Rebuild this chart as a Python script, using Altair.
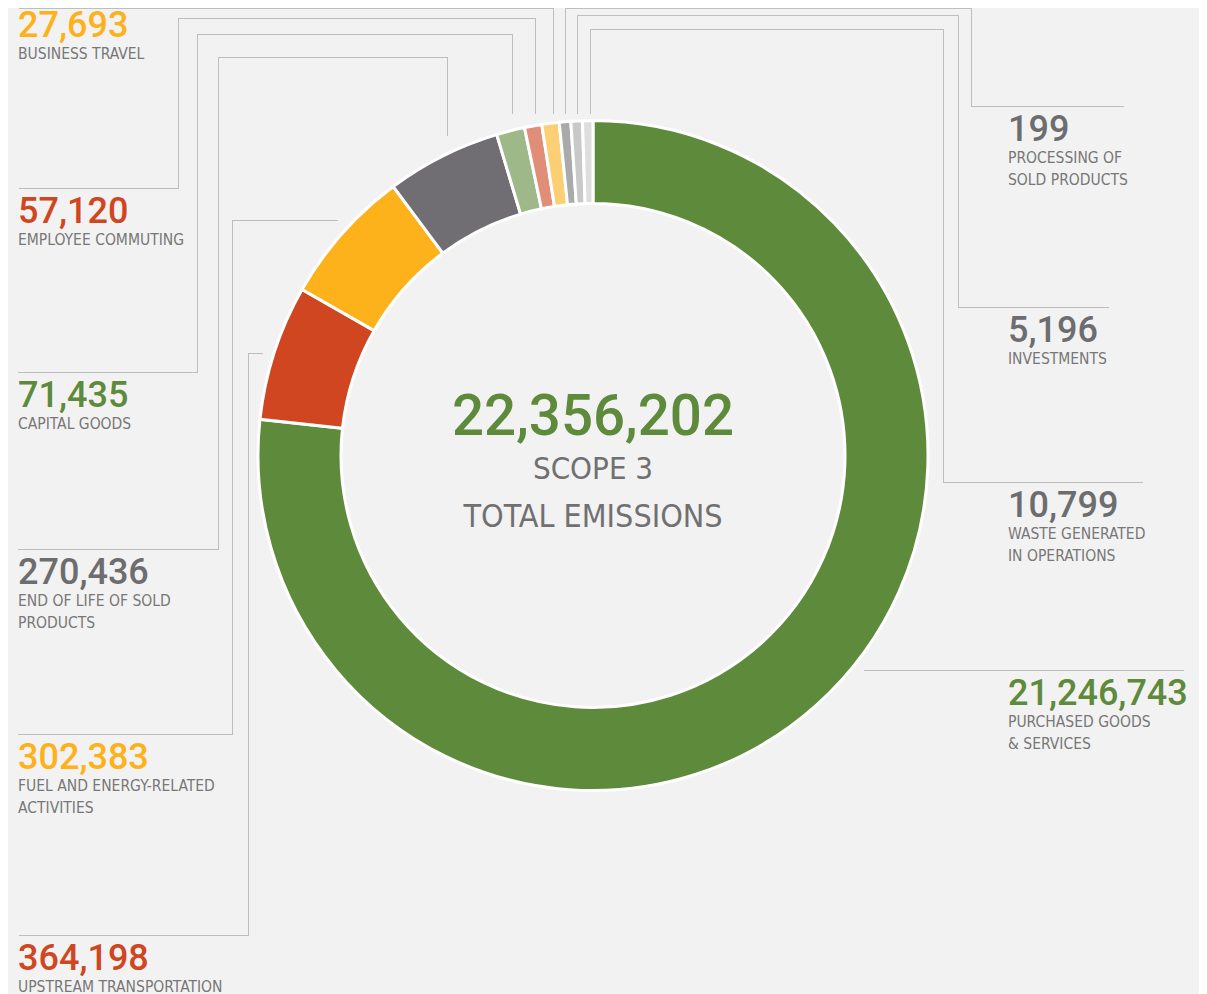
import altair as alt
import pandas as pd

# ---------------- data ----------------
categories = [
    "PURCHASED GOODS\n& SERVICES",
    "UPSTREAM TRANSPORTATION",
    "FUEL AND ENERGY-RELATED\nACTIVITIES",
    "END OF LIFE OF SOLD\nPRODUCTS",
    "CAPITAL GOODS",
    "EMPLOYEE COMMUTING",
    "BUSINESS TRAVEL",
    "PROCESSING OF\nSOLD PRODUCTS",
    "INVESTMENTS",
    "WASTE GENERATED\nIN OPERATIONS",
]
values = [21246743, 364198, 302383, 270436, 71435, 57120, 27693, 199, 5196, 10799]
# visual share of the ring as drawn in the original (degrees, not proportional to values)
slice_deg = [276.2, 23.5, 23.7, 19.9, 4.9, 3.0, 3.0, 2.0, 2.0, 1.8]
slice_colors = ["#5e8a3b", "#cf4620", "#fdb11a", "#706e73", "#9eb889",
                "#e08e78", "#fdcf74", "#aaaaaa", "#c9c9c9", "#dedede"]
number_colors = ["#5e8a3b", "#cf4620", "#fdb11a", "#6d6d6f", "#5e8a3b",
                 "#cf4620", "#fdb11a", "#6d6d6f", "#6d6d6f", "#6d6d6f"]
center_lines = ["SCOPE 3", "TOTAL EMISSIONS"]

# ---------------- layout (pixel space of the picture) ----------------
W, H = 1191, 986
OFF = 8
CX, CY = 593, 455.5
R_OUT, R_IN = 335, 252
label_side = ["right", "left", "left", "left", "left", "left", "left", "right", "right", "right"]
label_top = [670, 935, 734, 549, 372, 188, 2, 106, 307, 482]
leader_paths = [
    [(864, 670), (1183, 670)],
    [(262, 353), (248, 353), (248, 935), (18, 935)],
    [(337, 220), (232, 220), (232, 734), (18, 734)],
    [(447, 135), (447, 57), (218, 57), (218, 549), (18, 549)],
    [(512, 113), (512, 34), (197, 34), (197, 372), (18, 372)],
    [(535, 113), (535, 18), (178, 18), (178, 188), (18, 188)],
    [(553, 113), (553, 8), (18, 8)],
    [(565, 113), (565, 8), (971, 8), (971, 106), (1124, 106)],
    [(577, 113), (577, 15), (958, 15), (958, 307), (1109, 307)],
    [(590, 113), (590, 29), (943, 29), (943, 482), (1142, 482)],
]

xs = alt.Scale(domain=[OFF, OFF + W], nice=False, zero=False)
ys = alt.Scale(domain=[OFF, OFF + H], nice=False, zero=False, reverse=True)

# ---------------- ring ----------------
df_slices = pd.DataFrame({
    "cat": categories,
    "deg": slice_deg,
    "color": slice_colors,
    "idx": list(range(len(categories))),
})
arc = alt.Chart(df_slices).mark_arc(
    outerRadius=R_OUT, innerRadius=R_IN, stroke="white", strokeWidth=3
).encode(
    theta=alt.Theta("deg:Q", stack=True),
    color=alt.Color("color:N", scale=None),
    order=alt.Order("idx:Q"),
    x=alt.value(CX - OFF),
    y=alt.value(CY - OFF),
)

# ---------------- leader lines ----------------
rows = []
for i, path in enumerate(leader_paths):
    for k, (px, py) in enumerate(path):
        rows.append({"lid": i, "k": k, "x": px + 0.5, "y": py + 0.5})
df_lead = pd.DataFrame(rows)
leaders = alt.Chart(df_lead).mark_line(
    stroke="#8a8a8a", strokeWidth=1, strokeDash=[1, 1]
).encode(
    x=alt.X("x:Q", scale=xs, axis=None),
    y=alt.Y("y:Q", scale=ys, axis=None),
    detail="lid:N",
    order="k:Q",
)

# ---------------- labels ----------------
df_lab = pd.DataFrame({
    "num": [f"{v:,}" for v in values],
    "cat": categories,
    "ncolor": number_colors,
    "lx": [18 if s == "left" else 1008 for s in label_side],
    "ny": [t + 35 for t in label_top],
    "sy": [t + 57 for t in label_top],
})
nums = alt.Chart(df_lab).mark_text(
    align="left", baseline="alphabetic", font="Roboto", fontSize=36, fontWeight=500
).encode(
    x=alt.X("lx:Q", scale=xs, axis=None),
    y=alt.Y("ny:Q", scale=ys, axis=None),
    text="num:N",
    color=alt.Color("ncolor:N", scale=None),
)
NARROW = "'Liberation Sans Narrow', 'DejaVu Sans Condensed', 'Roboto Condensed', Roboto, sans-serif"
subs = alt.Chart(df_lab).mark_text(
    align="left", baseline="alphabetic", font=NARROW, fontSize=15.5,
    lineBreak="\n", lineHeight=22, color="#777777"
).encode(
    x=alt.X("lx:Q", scale=xs, axis=None),
    y=alt.Y("sy:Q", scale=ys, axis=None),
    text="cat:N",
)

# ---------------- centre ----------------
total = sum(values)
df_ctr = pd.DataFrame({"t": [f"{total:,}"], "x": [CX], "y": [435]})
ctr_num = alt.Chart(df_ctr).mark_text(
    align="center", baseline="alphabetic", font="Roboto", fontSize=56.5,
    fontWeight=500, color="#5e8a3b"
).encode(
    x=alt.X("x:Q", scale=xs, axis=None),
    y=alt.Y("y:Q", scale=ys, axis=None),
    text="t:N",
)
df_ctr2 = pd.DataFrame({"t": center_lines, "x": [CX, CX], "y": [479, 526.5], "s": [31, 32]})
ctr_sub = alt.Chart(df_ctr2).mark_text(
    align="center", baseline="alphabetic", font=NARROW, color="#707070"
).encode(
    x=alt.X("x:Q", scale=xs, axis=None),
    y=alt.Y("y:Q", scale=ys, axis=None),
    text="t:N",
    size=alt.Size("s:Q", scale=None),
)

chart = alt.layer(arc, leaders, nums, subs, ctr_num, ctr_sub).properties(
    width=W, height=H, padding=0, autosize="none", background="#f2f2f2"
).configure_view(stroke=None)

chart.save("out.html", embed_options={"renderer": "svg", "actions": False})
